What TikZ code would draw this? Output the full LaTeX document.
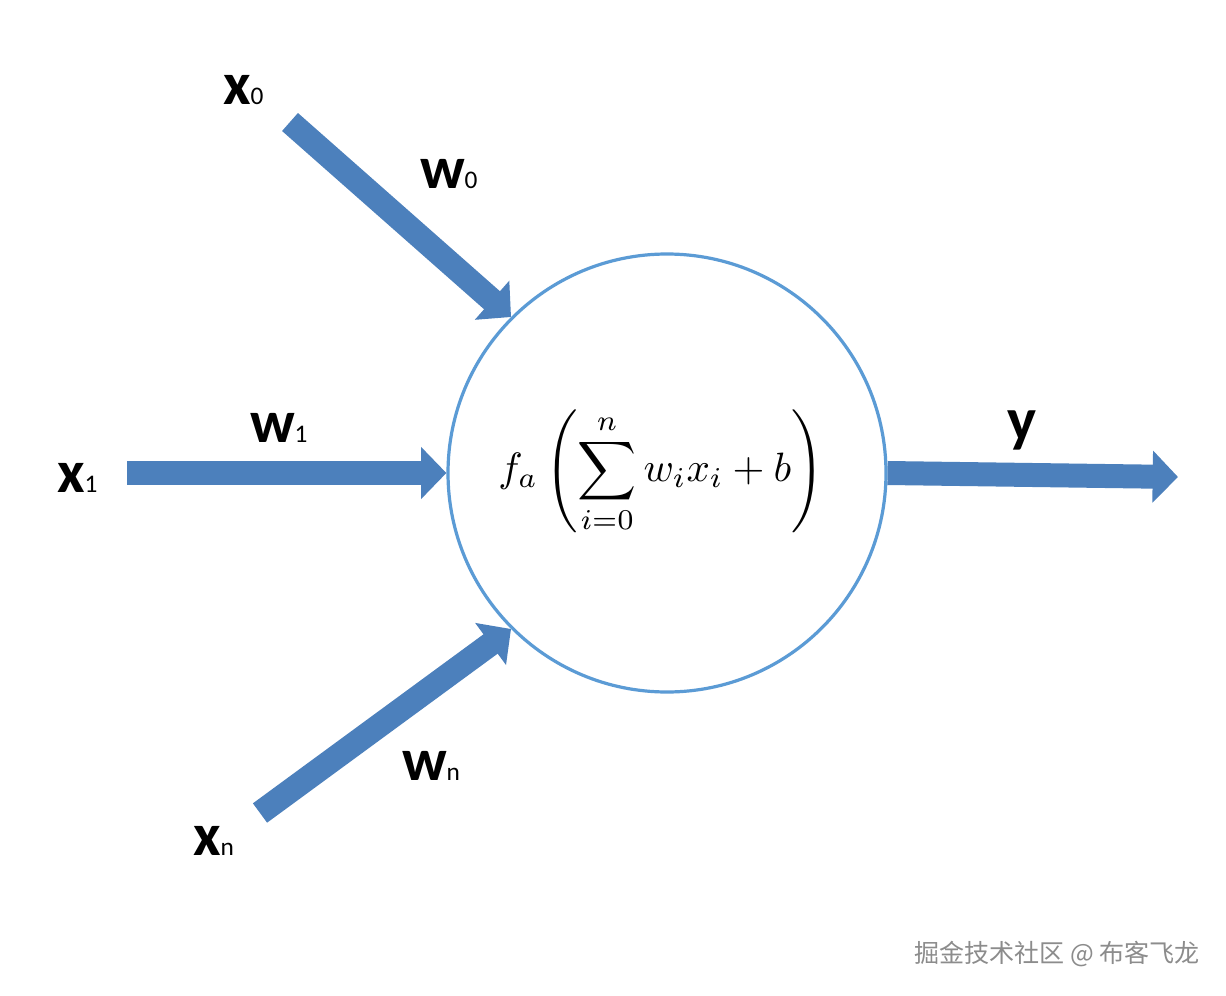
\documentclass[tikz,border=0pt]{standalone}
\usepackage{graphicx}
\usepackage{fontspec}
\setmainfont{Carlito}
\newfontfamily\cjk{Noto Sans CJK SC}
\usetikzlibrary{arrows.meta}
\definecolor{arrowblue}{RGB}{76,128,188}
\definecolor{ringblue}{RGB}{91,155,213}
\definecolor{wmgray}{RGB}{140,140,140}
\tikzset{
  blk/.style={draw=arrowblue, line width=18pt, line cap=butt,
    -{Triangle[length=19pt,width=38pt]}},
  lbl/.style={anchor=base west, inner sep=0pt, outer sep=0pt, text=black},
  ring/.style={circle, draw=ringblue, line width=2.4pt, minimum size=328.5pt, inner sep=0pt}
}
\newcommand{\lab}[2]{{\fontsize{45}{45}\selectfont\bfseries #1}{\fontsize{19}{19}\selectfont\mdseries #2}}
\begin{document}
\begin{tikzpicture}[x=0.75pt,y=-0.75pt]
\useasboundingbox (0,0) rectangle (1226,995);
\fill[white] (0,0) rectangle (1226,995);
% neuron
\node[ring] (c) at (667,473) {};
\node[inner sep=0pt] (f) at (661,472)
  {\resizebox{244pt}{!}{$\displaystyle f_a\left(\sum_{i=0}^{n} w_i x_i + b\right)$}};
% arrow start/end points
\coordinate (s0) at (290,122);
\coordinate (s1) at (127,473);
\coordinate (sn) at (260,813);
\coordinate (yend) at (1178,477);
\draw[blk] (s0) -- (c.135);
\draw[blk] (s1) -- (c.180);
\draw[blk] (sn) -- (c.225);
\draw[blk] (c.east) -- (yend);
% labels
\node[lbl] (lx0) at (223,105) {\lab{x}{0}};
\node[lbl] (lw0) at (420,188) {\lab{w}{0}};
\node[lbl] (lx1) at (57,492) {\lab{x}{1}};
\node[lbl] (lw1) at (250,442) {\lab{w}{1}};
\node[lbl] (lxn) at (193,855) {\lab{x}{n}};
\node[lbl] (lwn) at (402,780) {\lab{w}{n}};
\node[lbl] (ly) at (1007,440) {{\fontsize{46}{46}\selectfont\bfseries y}};
% watermark
\node[anchor=base west, inner sep=0pt, text=wmgray] (wm) at (914,962)
  {\cjk\fontsize{18.8}{18.8}\selectfont 掘金技术社区 @ 布客飞龙};
\end{tikzpicture}
\end{document}
